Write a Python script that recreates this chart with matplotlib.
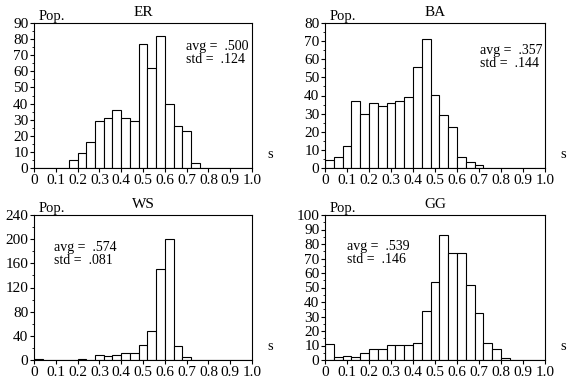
import numpy as np
import matplotlib
matplotlib.use('Agg')
import matplotlib.pyplot as plt
from matplotlib.ticker import MultipleLocator

plt.rcParams['font.family'] = ['Liberation Serif', 'DejaVu Serif']

# bin edges 0.00, 0.04, ... 1.00
bin_width = 0.04
n_bins = 25

er_counts = [0, 0, 0, 0, 5, 9.5, 16, 29, 31, 36, 31, 29, 77, 62, 82, 40, 26, 23, 3,
             0, 0, 0, 0, 0, 0]
ba_counts = [4.6, 6.2, 12.3, 37, 30, 36, 34.4, 36, 37, 39.2, 56, 71.3, 40.3, 29, 22.4,
             6.2, 3.3, 1.4, 0, 0, 0, 0, 0, 0, 0]
ws_counts = [1, 0, 0, 0, 0, 1.5, 0.5, 7.7, 6.6, 7.7, 12, 12, 24.8, 48, 151, 201, 24, 4.4,
             0, 0.5, 0, 0, 0, 0, 0]
gg_counts = [11, 1.8, 2.6, 1.8, 4.5, 7.4, 7.4, 10.1, 10.1, 10.1, 11.5, 34, 54, 86, 73.6,
             73.6, 52, 32.6, 12, 7.3, 1.6, 0, 0, 0, 0]

titles = ['ER', 'BA', 'WS', 'GG']
stats = [('.500', '.124'), ('.357', '.144'), ('.574', '.081'), ('.539', '.146')]
ymax = [90, 80, 240, 100]
ystep = [10, 10, 40, 10]
all_counts = [er_counts, ba_counts, ws_counts, gg_counts]

W, H = 576, 379
fig = plt.figure(figsize=(W / 100, H / 100), dpi=100)

# axes boxes in pixels: left, top, right, bottom
boxes = [(34, 23, 252, 168), (325, 23, 545, 168),
         (34, 215, 252, 360), (325, 215, 545, 360)]
# stats text position (pixels)
txt_pos = [(186, 53), (480, 57), (54, 254), (347, 253)]

edges = np.arange(n_bins) * bin_width

for i in range(4):
    l, t, r, b = boxes[i]
    ax = fig.add_axes([l / W, 1 - b / H, (r - l) / W, (b - t) / H])
    ax.bar(edges, all_counts[i], width=bin_width, align='edge',
           facecolor='white', edgecolor='black', linewidth=0.8)
    ax.set_xlim(0, 1.0)
    ax.set_ylim(0, ymax[i])
    ax.yaxis.set_major_locator(MultipleLocator(ystep[i]))
    ax.yaxis.set_minor_locator(MultipleLocator(ystep[i] / 2))
    ax.set_xticks(np.arange(0, 1.01, 0.1))
    ax.set_xticklabels(['0'] + ['%.1f' % v for v in np.arange(0.1, 1.01, 0.1)])
    ax.tick_params(axis='both', which='major', length=3, width=0.8, pad=1,
                   labelsize=11)
    ax.tick_params(axis='y', which='minor', length=1.5, width=0.6)
    for s in ax.spines.values():
        s.set_linewidth(0.8)
    ax.set_title(titles[i], fontsize=11, pad=5)
    ax.text(0.02, 1.0, 'Pop.', transform=ax.transAxes, fontsize=10.5,
            ha='left', va='bottom')
    ax.text(1.07, 0.09, 's', transform=ax.transAxes, fontsize=10.5,
            ha='left', va='center')
    tx, ty = txt_pos[i]
    fig.text(tx / W, 1 - ty / H, 'avg =  ' + stats[i][0] + '\nstd =  ' + stats[i][1],
             fontsize=10, ha='left', va='center', linespacing=0.95)

fig.savefig('out.png', dpi=100)
